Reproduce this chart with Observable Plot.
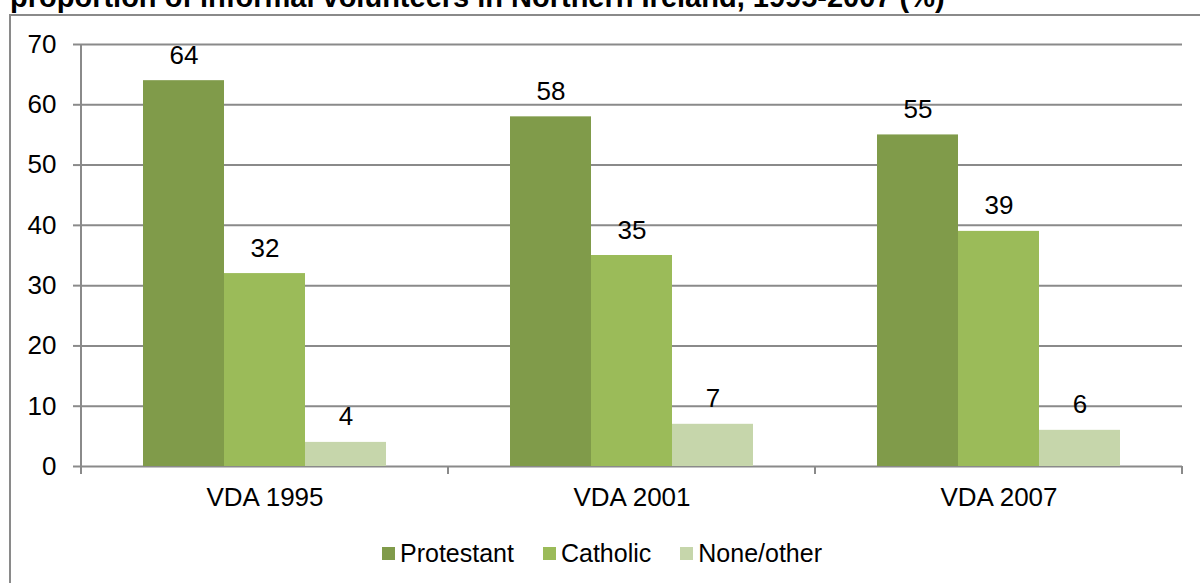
<!DOCTYPE html>
<html>
<head>
<meta charset="utf-8">
<script src="https://cdn.jsdelivr.net/npm/d3@7"></script>
<script src="https://cdn.jsdelivr.net/npm/@observablehq/plot@0.6"></script>
<style>
  html, body { margin: 0; padding: 0; background: #fff; }
  #wrap { position: relative; width: 1200px; height: 583px; overflow: hidden; font-family: "Liberation Sans", Arial, sans-serif; color: #000; }
  #title { position: absolute; left: 10px; top: -17px; font-size: 29px; line-height: 29px; font-weight: bold; white-space: nowrap; }
  #frame { position: absolute; left: 9px; top: 14px; width: 1400px; height: 800px; border: 2px solid #8a8a8a; box-sizing: border-box; }
  #chart { position: absolute; left: 0; top: 0; }
  #legend { position: absolute; left: 382px; top: 538px; display: flex; align-items: center; font-size: 25px; line-height: 30px; }
  .item { display: flex; align-items: center; margin-right: 29px; }
  .sw { width: 13px; height: 13px; margin-right: 5px; }
</style>
</head>
<body>
<div id="wrap">
  <div id="title">proportion of informal volunteers in Northern Ireland, 1995-2007 (%)</div>
  <div id="frame"></div>
  <div id="chart"></div>
  <div id="legend"></div>
</div>
<script>
const groups = ["VDA 1995", "VDA 2001", "VDA 2007"];
const series = ["Protestant", "Catholic", "None/other"];
const protestant = [64, 58, 55];
const catholic = [32, 35, 39];
const noneOther = [4, 7, 6];
const colors = ["#809b4a", "#9bbb59", "#c6d6ab"];
const yTicks = [0, 10, 20, 30, 40, 50, 60, 70];

const seriesValues = [protestant, catholic, noneOther];
const data = [];
groups.forEach((g, gi) => {
  series.forEach((s, si) => {
    data.push({group: g, series: s, value: seriesValues[si][gi]});
  });
});

const gridColor = "#8a8a8a";

const plot = Plot.plot({
  width: 1200,
  height: 520,
  marginLeft: 80,
  marginRight: 17,
  marginTop: 44,
  marginBottom: 54,
  style: {fontFamily: "'Liberation Sans', Arial, sans-serif", fontSize: "26px", color: "#000", background: "transparent", overflow: "visible"},
  fx: {domain: groups, padding: 0, label: null, axis: "bottom", tickSize: 0, tickPadding: 21, fontSize: 26},
  x: {domain: series, paddingInner: 0, paddingOuter: 0.75, axis: null},
  y: {domain: [0, 70], axis: null},
  color: {domain: series, range: colors},
  marks: [
    Plot.ruleY(yTicks, {y: d => d, stroke: gridColor, strokeWidth: 2}),
    Plot.axisY({ticks: yTicks, tickSize: 8, tickPadding: 17, stroke: gridColor, strokeWidth: 2, fontSize: 26, label: null, tickFormat: d => String(d)}),
    Plot.barY(data, {fx: "group", x: "series", y: "value", fill: "series"}),
    Plot.text(data, {fx: "group", x: "series", y: "value", text: d => String(d.value), lineAnchor: "bottom", dy: -17, fontSize: 26, fill: "#000"})
  ]
});

// axis line and category boundary ticks, positioned from the library's scales
const svg = d3.select(plot);
const fx = plot.scale("fx");
const y = plot.scale("y");
const bounds = [];
groups.forEach((g, i) => {
  const x0 = fx.apply(g);
  bounds.push(x0);
  if (i === groups.length - 1) bounds.push(x0 + fx.bandwidth);
});
const y0 = y.apply(0), yTop = y.apply(70);
const g = svg.append("g").attr("stroke", gridColor).attr("stroke-width", 2);
g.append("line").attr("x1", bounds[0]).attr("x2", bounds[0]).attr("y1", yTop).attr("y2", y0 + 8);
bounds.forEach(b => {
  g.append("line").attr("x1", b).attr("x2", b).attr("y1", y0).attr("y2", y0 + 8);
});

document.getElementById("chart").appendChild(plot);

const legend = document.getElementById("legend");
series.forEach((s, i) => {
  const item = document.createElement("div");
  item.className = "item";
  const sw = document.createElement("div");
  sw.className = "sw";
  sw.style.background = colors[i];
  const t = document.createElement("span");
  t.textContent = s;
  item.appendChild(sw);
  item.appendChild(t);
  legend.appendChild(item);
});
</script>
</body>
</html>
